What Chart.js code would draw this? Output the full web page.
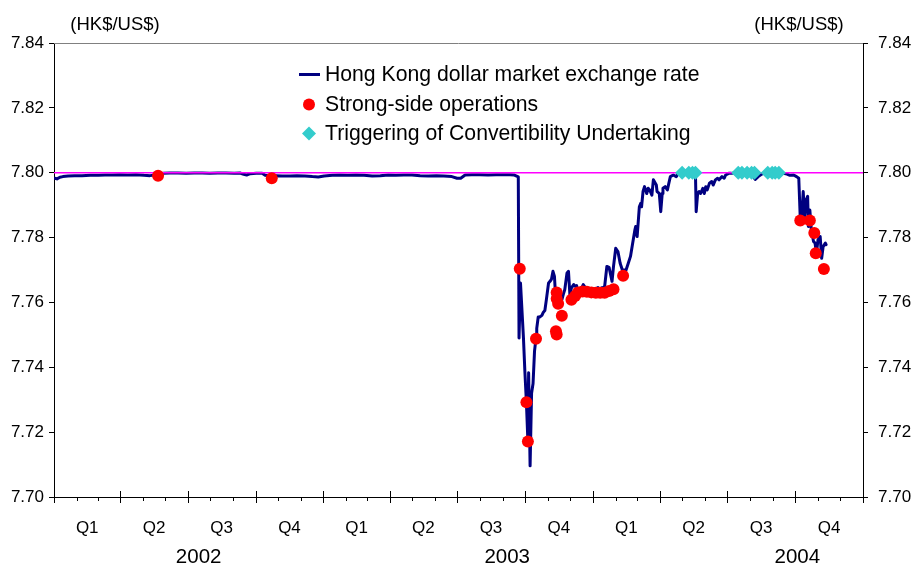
<!DOCTYPE html>
<html><head><meta charset="utf-8">
<script src="https://cdn.jsdelivr.net/npm/chart.js@4.4.1/dist/chart.umd.min.js"></script>
<style>html,body{margin:0;padding:0;background:#fff;}canvas{display:block;}</style>
</head><body>
<canvas id="c" width="917" height="564"></canvas>
<script>
// ---------------- data ----------------
const rateDates = [
'2002-01-02','2002-01-05','2002-01-09','2002-01-13','2002-01-20','2002-01-29','2002-02-08','2002-02-19','2002-03-02','2002-03-11',
'2002-03-21','2002-03-31','2002-04-11','2002-04-22','2002-05-03','2002-05-11','2002-05-21','2002-05-29','2002-06-07','2002-06-18',
'2002-06-29','2002-07-10','2002-07-21','2002-07-31','2002-08-11','2002-08-22','2002-09-02','2002-09-10','2002-09-15','2002-09-19',
'2002-09-24','2002-10-02','2002-10-10','2002-10-14','2002-10-21','2002-10-29','2002-11-06','2002-11-17','2002-11-26','2002-12-07',
'2002-12-17','2002-12-25','2003-01-02','2003-01-13','2003-01-23','2003-02-03','2003-02-14','2003-02-25','2003-03-08','2003-03-19',
'2003-03-30','2003-04-09','2003-04-20','2003-05-01','2003-05-12','2003-05-23','2003-06-03','2003-06-13','2003-06-24','2003-07-01',
'2003-07-06','2003-07-12','2003-07-21','2003-08-01','2003-08-12','2003-08-23','2003-09-03','2003-09-11','2003-09-16','2003-09-19',
'2003-09-22','2003-09-23','2003-09-25','2003-09-29','2003-10-01','2003-10-03','2003-10-05','2003-10-06','2003-10-08','2003-10-10',
'2003-10-12','2003-10-14','2003-10-16','2003-10-17','2003-10-19','2003-10-21','2003-10-24','2003-10-26','2003-10-28','2003-10-30',
'2003-11-02','2003-11-04','2003-11-06','2003-11-08','2003-11-10','2003-11-11','2003-11-13','2003-11-15','2003-11-18','2003-11-20',
'2003-11-22','2003-11-24','2003-11-27','2003-11-29','2003-12-01','2003-12-03','2003-12-06','2003-12-08','2003-12-10','2003-12-12',
'2003-12-15','2003-12-17','2003-12-19','2003-12-21','2003-12-24','2003-12-27','2003-12-30','2004-01-03','2004-01-05','2004-01-08',
'2004-01-11','2004-01-13','2004-01-15','2004-01-17','2004-01-20','2004-01-23','2004-01-27','2004-01-29','2004-02-01','2004-02-04',
'2004-02-07','2004-02-10','2004-02-15','2004-02-18','2004-02-21','2004-02-24','2004-02-27','2004-02-28','2004-03-01','2004-03-04',
'2004-03-06','2004-03-07','2004-03-09','2004-03-11','2004-03-14','2004-03-16','2004-03-18','2004-03-21','2004-03-23','2004-03-27',
'2004-03-28','2004-03-31','2004-04-02','2004-04-04','2004-04-05','2004-04-08','2004-04-11','2004-04-13','2004-04-15','2004-04-19',
'2004-04-23','2004-04-26','2004-04-29','2004-05-06','2004-05-13','2004-05-19','2004-05-20','2004-05-22','2004-05-24','2004-05-26',
'2004-05-29','2004-05-31','2004-06-02','2004-06-04','2004-06-07','2004-06-10','2004-06-12','2004-06-15','2004-06-18','2004-06-20',
'2004-06-24','2004-06-27','2004-06-29','2004-07-03','2004-07-07','2004-07-12','2004-07-25','2004-08-02','2004-08-08','2004-08-12',
'2004-08-17','2004-08-21','2004-09-04','2004-09-15','2004-09-20','2004-09-24','2004-09-29','2004-10-03','2004-10-06','2004-10-08',
'2004-10-10','2004-10-12','2004-10-14','2004-10-16','2004-10-18','2004-10-19','2004-10-21','2004-10-23','2004-10-26','2004-10-28',
'2004-10-30','2004-11-01','2004-11-04','2004-11-06','2004-11-08','2004-11-11','2004-11-12'
];
const rateValues = [
7.7983,7.7981,7.7986,7.7988,7.7990,7.7991,7.7991,7.7992,7.7992,7.7993,
7.7993,7.7994,7.7993,7.7994,7.7992,7.7991,7.7994,7.7998,7.7999,7.7999,
7.7998,7.7999,7.7999,7.7998,7.7999,7.7999,7.7998,7.7999,7.7995,7.7993,
7.7997,7.7998,7.7998,7.7992,7.7990,7.7991,7.7990,7.7990,7.7991,7.7990,
7.7988,7.7987,7.7990,7.7992,7.7993,7.7992,7.7993,7.7992,7.7990,7.7991,
7.7993,7.7992,7.7993,7.7993,7.7991,7.7990,7.7991,7.7990,7.7988,7.7983,
7.7983,7.7993,7.7994,7.7994,7.7993,7.7994,7.7994,7.7994,7.7993,7.7990,
7.7987,7.7490,7.7660,7.7490,7.7383,7.7292,7.7172,7.7383,7.7096,7.7320,
7.7350,7.7450,7.7490,7.7520,7.7555,7.7555,7.7560,7.7570,7.7575,7.7608,
7.7660,7.7665,7.7672,7.7696,7.7680,7.7640,7.7630,7.7620,7.7625,7.7608,
7.7625,7.7640,7.7691,7.7696,7.7620,7.7645,7.7655,7.7650,7.7652,7.7630,
7.7640,7.7645,7.7655,7.7648,7.7645,7.7640,7.7637,7.7640,7.7642,7.7646,
7.7639,7.7645,7.7646,7.7649,7.7711,7.7708,7.7665,7.7711,7.7767,7.7757,
7.7721,7.7700,7.7700,7.7721,7.7742,7.7783,7.7824,7.7834,7.7803,7.7895,
7.7906,7.7895,7.7942,7.7957,7.7936,7.7952,7.7947,7.7931,7.7978,7.7962,
7.7942,7.7936,7.7880,7.7936,7.7952,7.7957,7.7947,7.7968,7.7988,7.7993,
7.7988,7.7998,7.8000,7.8000,7.8000,7.8000,7.7880,7.7936,7.7942,7.7936,
7.7952,7.7936,7.7957,7.7947,7.7968,7.7973,7.7962,7.7978,7.7983,7.7978,
7.7988,7.7983,7.7993,7.7998,7.7998,7.8000,7.8000,7.8000,7.7979,7.7988,
7.7996,7.8000,7.8000,7.7998,7.7996,7.7992,7.7993,7.7988,7.7983,7.7860,
7.7865,7.7942,7.7865,7.7916,7.7927,7.7834,7.7885,7.7824,7.7788,7.7783,
7.7752,7.7793,7.7803,7.7736,7.7772,7.7783,7.7778
];
const strongSideDates = [
'2002-05-22','2002-10-23','2003-09-24','2003-10-03','2003-10-05','2003-10-16','2003-11-12','2003-11-13','2003-11-13','2003-11-13',
'2003-11-15','2003-11-20','2003-12-03','2003-12-08','2003-12-12','2003-12-18','2003-12-24','2003-12-30','2004-01-05','2004-01-11',
'2004-01-17','2004-01-23','2004-01-29','2004-02-11','2004-10-08','2004-10-21','2004-10-27','2004-10-29','2004-11-09'
];
const strongSideValues = [
7.7991,7.7983,7.7704,7.7292,7.7171,7.7488,7.7511,7.7501,7.7631,7.7611,
7.7596,7.7559,7.7608,7.7620,7.7631,7.7634,7.7633,7.7631,7.7630,7.7630,
7.7630,7.7635,7.7641,7.7682,7.7853,7.7853,7.7814,7.7752,7.7703
];
const cuDates = [
'2004-05-01','2004-05-10','2004-05-15','2004-05-19','2004-07-16','2004-07-21','2004-07-28','2004-08-03','2004-08-07',
'2004-08-25','2004-08-31','2004-09-04','2004-09-09'
];
const cuValues = [7.80,7.80,7.80,7.80,7.80,7.80,7.80,7.80,7.80,7.80,7.80,7.80,7.80];
const linkedRate = 7.80;
const quarterLabels = ['Q1','Q2','Q3','Q4','Q1','Q2','Q3','Q4','Q1','Q2','Q3','Q4'];
const yearLabels = ['2002','2003','2004'];
const seriesNames = ['Hong Kong dollar market exchange rate','Strong-side operations','Triggering of Convertibility Undertaking'];
const unitLabel = '(HK$/US$)';

// ---------------- helpers / layout ----------------
const BASE = Date.UTC(2002,0,1);
function dayIndex(s){const p=s.split('-').map(Number);return (Date.UTC(p[0],p[1]-1,p[2])-BASE)/86400000;}
function monthStart(i){return (Date.UTC(2002,i,1)-BASE)/86400000;}
const X_MIN = 0, X_MAX = monthStart(36);
const quarterMids = quarterLabels.map((q,i)=> (monthStart(i*3)+monthStart(i*3+3))/2);
const yearCaptionAt = ['2002-07-16','2003-09-07','2004-10-04'].map(dayIndex);
const FONT = '"Liberation Sans", Arial, sans-serif';
const pts = (d,v)=> d.map((s,i)=>({x:dayIndex(s),y:v[i]}));

const decor = {
  id:'decor',
  afterDraw(chart){
    const ctx = chart.ctx, a = chart.chartArea, xs = chart.scales.x;
    ctx.save();
    // top frame line
    ctx.strokeStyle = '#808080'; ctx.lineWidth = 1;
    ctx.beginPath(); ctx.moveTo(a.left, a.top+0.5); ctx.lineTo(a.right, a.top+0.5); ctx.stroke();
    // x tick marks at month boundaries
    ctx.strokeStyle = '#000';
    for(let i=0;i<=36;i++){
      const px = Math.round(xs.getPixelForValue(monthStart(i)))+0.5;
      ctx.beginPath();
      if(i%3===0){ctx.moveTo(px,a.bottom-6);ctx.lineTo(px,a.bottom+6);} else {ctx.moveTo(px,a.bottom);ctx.lineTo(px,a.bottom+4);}
      ctx.stroke();
    }
    // unit labels
    ctx.fillStyle = '#000'; ctx.font = '18.5px '+FONT; ctx.textBaseline='middle'; ctx.textAlign='center';
    ctx.fillText(unitLabel, 115, 25);
    ctx.fillText(unitLabel, 799, 25);
    // legend
    const ds = chart.data.datasets;
    ctx.textAlign='left'; ctx.font = '21.2px '+FONT;
    const lx = 309, tx = 325, ly = [74.5,104.5,133.5];
    ctx.strokeStyle = ds[0].borderColor; ctx.lineWidth = 3;
    ctx.beginPath(); ctx.moveTo(lx-10, ly[0]); ctx.lineTo(lx+11, ly[0]); ctx.stroke();
    ctx.fillStyle = ds[1].pointBackgroundColor;
    ctx.beginPath(); ctx.arc(lx, ly[1], 6, 0, Math.PI*2); ctx.fill();
    ctx.fillStyle = ds[2].pointBackgroundColor;
    ctx.beginPath(); ctx.moveTo(lx-7,ly[2]); ctx.lineTo(lx,ly[2]-7); ctx.lineTo(lx+7,ly[2]); ctx.lineTo(lx,ly[2]+7); ctx.closePath(); ctx.fill();
    ctx.fillStyle = '#000';
    seriesNames.forEach((n,i)=> ctx.fillText(n, tx, ly[i]+1));
    ctx.restore();
  }
};

const yAxisCommon = {
  min:7.70, max:7.84,
  ticks:{stepSize:0.02, color:'#000', font:{family:FONT,size:17}, callback:v=>v.toFixed(2)},
  grid:{display:true, drawOnChartArea:false, drawTicks:true, tickLength:5, tickColor:'#000', color:'#000'},
  border:{display:true, color:'#000', width:1}
};

new Chart(document.getElementById('c'), {
  type:'line',
  data:{datasets:[
    {label:seriesNames[0], data:pts(rateDates,rateValues), borderColor:'#000080', borderWidth:3, pointRadius:0, tension:0, order:4, yAxisID:'y', xAxisID:'x', borderJoinStyle:'round', borderCapStyle:'round'},
    {label:seriesNames[1], data:pts(strongSideDates,strongSideValues), showLine:false, pointRadius:6, pointHoverRadius:6, pointBackgroundColor:'#FF0000', pointBorderWidth:0, borderColor:'#FF0000', order:2, yAxisID:'y', xAxisID:'x'},
    {label:seriesNames[2], data:pts(cuDates,cuValues), showLine:false, pointStyle:'rectRot', pointRadius:7, pointHoverRadius:7, pointBackgroundColor:'#33CCCC', pointBorderWidth:0, borderColor:'#33CCCC', order:1, yAxisID:'y', xAxisID:'x'},
    {label:'link', data:[{x:X_MIN,y:linkedRate},{x:X_MAX,y:linkedRate}], borderColor:'#FF00FF', borderWidth:1.5, pointRadius:0, order:3, yAxisID:'y', xAxisID:'x'}
  ]},
  options:{
    responsive:false, animation:false, devicePixelRatio:1,
    layout:{padding:{top:43,left:0,right:0,bottom:0}},
    plugins:{legend:{display:false}, tooltip:{enabled:false}},
    scales:{
      x:{type:'linear', position:'bottom', weight:0, min:X_MIN, max:X_MAX,
         afterBuildTicks:s=>{s.ticks = quarterMids.map(v=>({value:v}));},
         afterFit:s=>{s.height = 40;},
         ticks:{autoSkip:false, maxRotation:0, minRotation:0, padding:21, color:'#000', font:{family:FONT,size:17}, callback:(v,i)=>quarterLabels[i]},
         grid:{display:false, drawTicks:false}, border:{display:true,color:'#000',width:1}},
      x2:{type:'linear', position:'bottom', weight:1, min:X_MIN, max:X_MAX,
         afterBuildTicks:s=>{s.ticks = yearCaptionAt.map(v=>({value:v}));},
         afterFit:s=>{s.height = 27;},
         ticks:{autoSkip:false, maxRotation:0, minRotation:0, padding:8, color:'#000', font:{family:FONT,size:20.5}, callback:(v,i)=>yearLabels[i]},
         grid:{display:false, drawTicks:false}, border:{display:false}},
      y:Object.assign({}, yAxisCommon, {position:'left', afterFit:s=>{s.width=54;}, ticks:Object.assign({}, yAxisCommon.ticks, {padding:5})}),
      y2:Object.assign({}, yAxisCommon, {position:'right', afterFit:s=>{s.width=54;}, ticks:Object.assign({}, yAxisCommon.ticks, {padding:10})})
    }
  },
  plugins:[decor]
});
</script>
</body></html>
